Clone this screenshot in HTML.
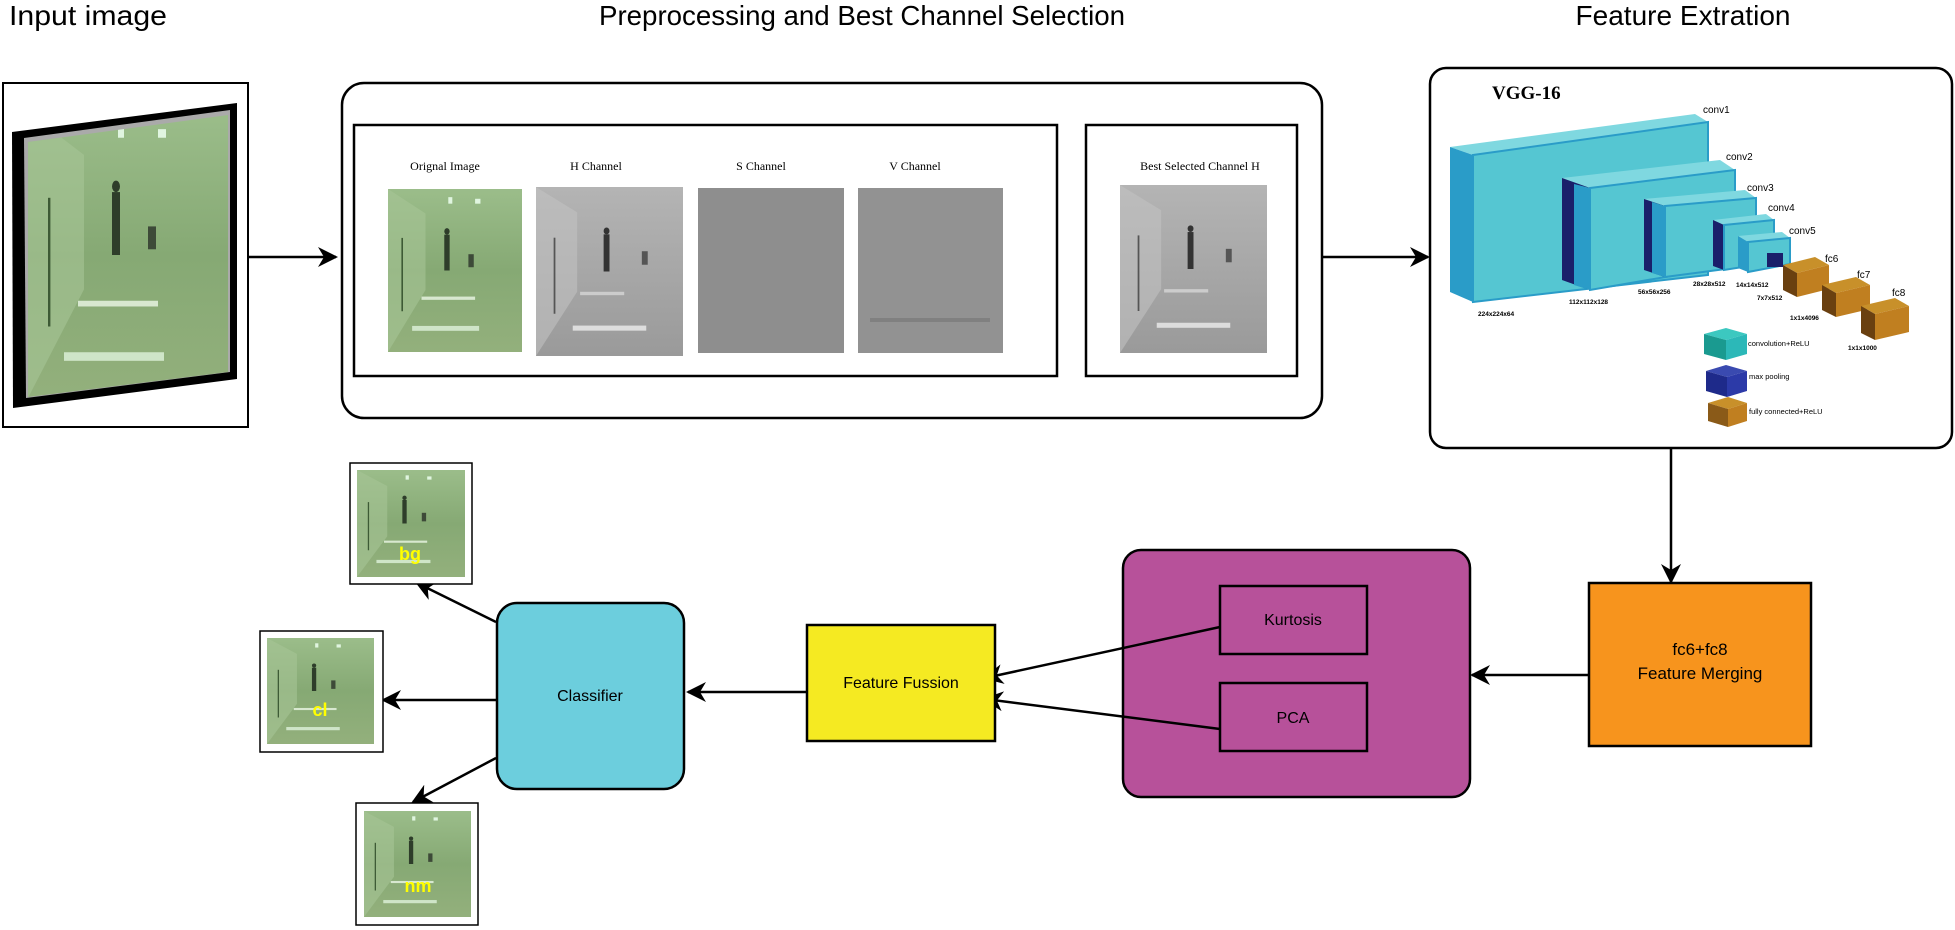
<!DOCTYPE html>
<html><head><meta charset="utf-8"><style>
html,body{margin:0;padding:0;background:#fff;width:1955px;height:930px;overflow:hidden}
svg{display:block}
.t{font-family:"Liberation Sans",sans-serif}
.s{font-family:"Liberation Serif",serif}
</style></head><body>
<svg width="1955" height="930" viewBox="0 0 1955 930" xmlns="http://www.w3.org/2000/svg">
<defs>
<marker id="ar" viewBox="0 0 20 20" refX="18" refY="10" markerWidth="20" markerHeight="20" markerUnits="userSpaceOnUse" orient="auto">
<path d="M0,0 L20,10 L0,20 L6,10 Z" fill="#000"/></marker>
<clipPath id="inclip"><polygon points="28,142 228,115 228,372 28,397"/></clipPath>
<linearGradient id="grn" x1="0" y1="0" x2="0" y2="1"><stop offset="0" stop-color="#9bbd8a"/><stop offset="0.5" stop-color="#86a974"/><stop offset="1" stop-color="#93b07c"/></linearGradient>
<linearGradient id="gry" x1="0" y1="0" x2="0" y2="1"><stop offset="0" stop-color="#b4b4b4"/><stop offset="1" stop-color="#9a9a9a"/></linearGradient>
<g id="scene">
<rect x="0" y="0" width="100" height="100" fill="url(#grn)"/>
<path d="M0,0 L28,15 L28,62 L0,100 Z" fill="#a7c596" opacity="0.6"/>
<rect x="10" y="30" width="1.2" height="45" fill="#3d5a35"/>
<rect x="42" y="28" width="4" height="22" fill="#2e3d2a"/>
<circle cx="44" cy="26" r="2" fill="#2e3d2a"/>
<rect x="60" y="40" width="4" height="8" fill="#3d4a38"/>
<rect x="25" y="66" width="40" height="2" fill="#d8e8d0"/>
<rect x="18" y="84" width="50" height="3" fill="#cfe5c8"/>
<rect x="45" y="5" width="3" height="4" fill="#e0f5e0"/><rect x="65" y="6" width="4" height="3" fill="#e0f5e0"/>
</g>
<g id="sceneg">
<rect x="0" y="0" width="100" height="100" fill="url(#gry)"/>
<path d="M0,0 L28,15 L28,62 L0,100 Z" fill="#c2c2c2" opacity="0.6"/>
<rect x="12" y="30" width="1.2" height="45" fill="#555"/>
<rect x="46" y="28" width="4" height="22" fill="#333"/>
<circle cx="48" cy="26" r="2" fill="#333"/>
<rect x="72" y="38" width="4" height="8" fill="#555"/>
<rect x="25" y="82" width="50" height="3" fill="#ddd"/>
<rect x="30" y="62" width="30" height="2" fill="#ccc"/>
</g>
</defs>

<!-- Titles -->
<text class="t" x="88" y="25" font-size="28" text-anchor="middle" textLength="158" lengthAdjust="spacingAndGlyphs">Input image</text>
<text class="t" x="862" y="25" font-size="28" text-anchor="middle" textLength="526" lengthAdjust="spacingAndGlyphs">Preprocessing and Best Channel Selection</text>
<text class="t" x="1683" y="25" font-size="28" text-anchor="middle" textLength="215" lengthAdjust="spacingAndGlyphs">Feature Extration</text>

<!-- Input image -->
<rect x="3" y="83" width="245" height="344" fill="#fff" stroke="#000" stroke-width="2"/>
<polygon points="12,132 237,103 237,379 13,408" fill="#000"/>
<polygon points="24,138 230,110 230,372 26,398" fill="#aaa"/>
<g clip-path="url(#inclip)">
<svg x="28" y="112" width="200" height="286" viewBox="0 0 100 100" preserveAspectRatio="none"><use href="#scene"/></svg>
</g>
<line x1="248" y1="257" x2="336" y2="257" stroke="#000" stroke-width="2.5" marker-end="url(#ar)"/>

<!-- Preprocessing -->
<rect x="342" y="83" width="980" height="335" rx="22" fill="none" stroke="#000" stroke-width="2.5"/>
<rect x="354" y="125" width="703" height="251" fill="none" stroke="#000" stroke-width="2.5"/>
<rect x="1086" y="125" width="211" height="251" fill="none" stroke="#000" stroke-width="2.5"/>
<g class="s" font-size="12" text-anchor="middle">
<text x="445" y="170">Orignal Image</text>
<text x="596" y="170">H Channel</text>
<text x="761" y="170">S Channel</text>
<text x="915" y="170">V Channel</text>
<text x="1200" y="170">Best Selected Channel H</text>
</g>
<svg x="388" y="189" width="134" height="163" viewBox="0 0 100 100" preserveAspectRatio="none"><use href="#scene"/></svg>
<svg x="536" y="187" width="147" height="169" viewBox="0 0 100 100" preserveAspectRatio="none"><use href="#sceneg"/></svg>
<rect x="698" y="188" width="146" height="165" fill="#8e8e8e"/>
<rect x="858" y="188" width="145" height="165" fill="#929292"/>
<rect x="870" y="318" width="120" height="4" fill="#808080"/>
<svg x="1120" y="185" width="147" height="168" viewBox="0 0 100 100" preserveAspectRatio="none"><use href="#sceneg"/></svg>
<line x1="1322" y1="257" x2="1428" y2="257" stroke="#000" stroke-width="2.5" marker-end="url(#ar)"/>

<!-- VGG box -->
<rect x="1430" y="68" width="522" height="380" rx="16" fill="#fff" stroke="#000" stroke-width="2.5"/>
<text class="s" x="1492" y="99" font-size="19" font-weight="bold">VGG-16</text>
<polygon points="1450,147 1695,114 1708,122 1473,155" fill="#7fd8e0"/>
<polygon points="1450,147 1473,155 1473,302 1450,292" fill="#2a9cc8"/>
<polygon points="1473,155 1708,122 1708,275 1473,302" fill="#55c6d2" stroke="#2a9cc8" stroke-width="2"/>
<polygon points="1562,178 1720,160 1735,170 1590,188" fill="#7fd8e0"/>
<polygon points="1562,178 1590,188 1590,290 1562,280" fill="#1a1f6a"/>
<polygon points="1574,184 1590,188 1590,290 1574,285" fill="#2a9cc8"/>
<polygon points="1590,188 1735,170 1735,265 1590,290" fill="#55c6d2" stroke="#2a9cc8" stroke-width="2"/>
<polygon points="1644,199 1745,190 1756,198 1665,206" fill="#7fd8e0"/>
<polygon points="1644,199 1665,206 1665,277 1644,270" fill="#1a1f6a"/>
<polygon points="1652,202 1665,206 1665,277 1652,273" fill="#2a9cc8"/>
<polygon points="1665,206 1756,198 1756,265 1665,277" fill="#55c6d2" stroke="#2a9cc8" stroke-width="2"/>
<polygon points="1713,220 1766,214 1774,220 1724,225" fill="#7fd8e0"/>
<polygon points="1713,220 1724,225 1724,270 1713,266" fill="#1a1f6a"/>
<polygon points="1724,225 1774,220 1774,262 1724,270" fill="#55c6d2" stroke="#2a9cc8" stroke-width="2"/>
<polygon points="1738,236 1782,232 1790,238 1748,242" fill="#7fd8e0"/>
<polygon points="1738,236 1748,242 1748,272 1738,268" fill="#2a9cc8"/>
<polygon points="1748,242 1790,238 1790,264 1748,272" fill="#55c6d2" stroke="#2a9cc8" stroke-width="2"/>
<rect x="1767" y="253" width="16" height="14" fill="#1a1f6a"/>
<g>
<polygon points="1783,265 1815,257 1829,265 1797,273" fill="#c8902a"/><polygon points="1783,265 1797,273 1797,297 1783,290" fill="#6a4010"/><polygon points="1797,273 1829,265 1829,289 1797,297" fill="#c07f20"/>
<polygon points="1822,285 1856,277 1870,285 1836,293" fill="#c8902a"/><polygon points="1822,285 1836,293 1836,317 1822,310" fill="#6a4010"/><polygon points="1836,293 1870,285 1870,309 1836,317" fill="#c07f20"/>
<polygon points="1861,306 1895,298 1909,306 1875,314" fill="#c8902a"/><polygon points="1861,306 1875,314 1875,340 1861,333" fill="#6a4010"/><polygon points="1875,314 1909,306 1909,332 1875,340" fill="#c07f20"/>
</g>
<g class="t" font-size="10">
<text x="1703" y="113">conv1</text><text x="1726" y="160">conv2</text><text x="1747" y="191">conv3</text><text x="1768" y="211">conv4</text><text x="1789" y="234">conv5</text>
<text x="1825" y="262">fc6</text><text x="1857" y="278">fc7</text><text x="1892" y="296">fc8</text>
</g>
<g class="t" font-size="6.5" font-weight="bold">
<text x="1478" y="316">224x224x64</text><text x="1569" y="304">112x112x128</text><text x="1638" y="294">56x56x256</text>
<text x="1693" y="286">28x28x512</text><text x="1736" y="287">14x14x512</text><text x="1757" y="300">7x7x512</text>
<text x="1790" y="320">1x1x4096</text><text x="1848" y="350">1x1x1000</text>
</g>
<polygon points="1704,334 1726,328 1747,334 1726,340" fill="#3cc8c0"/><polygon points="1704,334 1726,340 1726,360 1704,354" fill="#1a9a90"/><polygon points="1726,340 1747,334 1747,354 1726,360" fill="#2cb8b8"/>
<polygon points="1706,371 1726,365 1747,371 1727,377" fill="#3a4ab0"/><polygon points="1706,371 1727,377 1727,397 1706,391" fill="#1e2a8a"/><polygon points="1727,377 1747,371 1747,391 1727,397" fill="#2c3aa8"/>
<polygon points="1708,403 1728,397 1747,403 1728,409 " fill="#c8902a"/><polygon points="1708,403 1728,409 1728,427 1708,421" fill="#8a5a18"/><polygon points="1728,409 1747,403 1747,421 1728,427" fill="#c07f20"/>
<g class="t" font-size="7.5"><text x="1748" y="346">convolution+ReLU</text><text x="1749" y="379">max pooling</text><text x="1749" y="414">fully connected+ReLU</text></g>

<line x1="1671" y1="449" x2="1671" y2="582" stroke="#000" stroke-width="2.5" marker-end="url(#ar)"/>

<rect x="1589" y="583" width="222" height="163" fill="#f7941d" stroke="#000" stroke-width="2.5"/>
<text class="t" x="1700" y="655" font-size="17" text-anchor="middle">fc6+fc8</text>
<text class="t" x="1700" y="679" font-size="17" text-anchor="middle">Feature Merging</text>
<line x1="1589" y1="675" x2="1472" y2="675" stroke="#000" stroke-width="2.5" marker-end="url(#ar)"/>

<rect x="1123" y="550" width="347" height="247" rx="18" fill="#b7519a" stroke="#000" stroke-width="2.5"/>
<rect x="1220" y="586" width="147" height="68" fill="#b7519a" stroke="#000" stroke-width="2.5"/>
<rect x="1220" y="683" width="147" height="68" fill="#b7519a" stroke="#000" stroke-width="2.5"/>
<text class="t" x="1293" y="625" font-size="16" text-anchor="middle">Kurtosis</text>
<text class="t" x="1293" y="723" font-size="16" text-anchor="middle">PCA</text>
<line x1="1220" y1="627" x2="985" y2="678" stroke="#000" stroke-width="2.5" marker-end="url(#ar)"/>
<line x1="1220" y1="729" x2="985" y2="699" stroke="#000" stroke-width="2.5" marker-end="url(#ar)"/>

<rect x="807" y="625" width="188" height="116" fill="#f5ea22" stroke="#000" stroke-width="2.5"/>
<text class="t" x="901" y="688" font-size="16" text-anchor="middle">Feature Fussion</text>
<line x1="807" y1="692" x2="688" y2="692" stroke="#000" stroke-width="2.5" marker-end="url(#ar)"/>

<rect x="497" y="603" width="187" height="186" rx="20" fill="#6ccedd" stroke="#000" stroke-width="2.5"/>
<text class="t" x="590" y="701" font-size="16" text-anchor="middle">Classifier</text>
<line x1="496" y1="622" x2="417" y2="583" stroke="#000" stroke-width="2.5" marker-end="url(#ar)"/>
<line x1="496" y1="700" x2="383" y2="700" stroke="#000" stroke-width="2.5" marker-end="url(#ar)"/>
<line x1="496" y1="758" x2="413" y2="802" stroke="#000" stroke-width="2.5" marker-end="url(#ar)"/>

<rect x="350" y="463" width="122" height="121" fill="#fff" stroke="#000" stroke-width="1.5"/>
<svg x="357" y="470" width="108" height="107" viewBox="0 0 100 100" preserveAspectRatio="none"><use href="#scene"/></svg>
<text class="t" x="410" y="560" font-size="18" font-weight="bold" fill="#ffff00" text-anchor="middle">bg</text>
<rect x="260" y="631" width="123" height="121" fill="#fff" stroke="#000" stroke-width="1.5"/>
<svg x="267" y="638" width="107" height="106" viewBox="0 0 100 100" preserveAspectRatio="none"><use href="#scene"/></svg>
<text class="t" x="320" y="716" font-size="18" font-weight="bold" fill="#ffff00" text-anchor="middle">cl</text>
<rect x="356" y="803" width="122" height="122" fill="#fff" stroke="#000" stroke-width="1.5"/>
<svg x="364" y="811" width="107" height="106" viewBox="0 0 100 100" preserveAspectRatio="none"><use href="#scene"/></svg>
<text class="t" x="418" y="892" font-size="18" font-weight="bold" fill="#ffff00" text-anchor="middle">nm</text>
</svg>
</body></html>
